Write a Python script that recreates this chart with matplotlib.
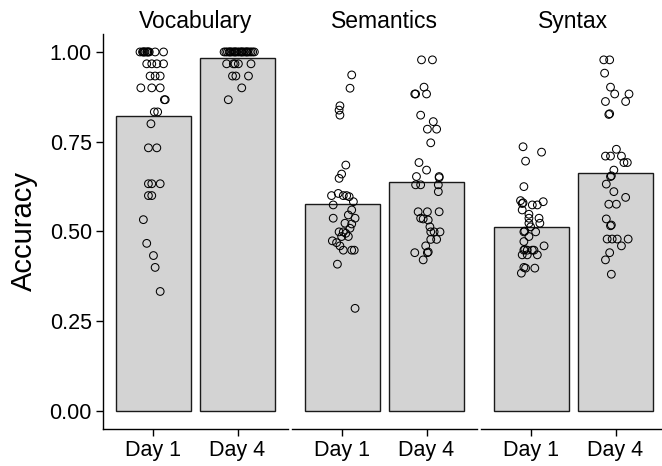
import matplotlib.pyplot as plt

plt.rcParams['font.family'] = ['Liberation Sans', 'DejaVu Sans']

panels = ["Vocabulary", "Semantics", "Syntax"]
days = ["Day 1", "Day 4"]
y_ticks = [0.00, 0.25, 0.50, 0.75, 1.00]

# mean accuracy per panel (Day 1, Day 4)
means = {
    "Vocabulary": [0.822, 0.984],
    "Semantics": [0.577, 0.637],
    "Syntax": [0.513, 0.662],
}

# individual scores: (jitter offset, accuracy)
vocab_d1 = [(-0.16, 1.0), (-0.13, 1.0), (-0.12, 1.0), (-0.11, 1.0), (-0.10, 1.0), (-0.08, 1.0),
            (-0.07, 1.0), (-0.06, 1.0), (-0.05, 1.0), (0.02, 1.0), (0.12, 1.0),
            (-0.08, 0.967), (-0.02, 0.967), (0.04, 0.967), (0.12, 0.967),
            (-0.04, 0.933), (0.02, 0.933), (0.08, 0.933),
            (-0.15, 0.9), (-0.02, 0.9), (0.08, 0.9),
            (0.13, 0.867), (0.14, 0.867),
            (0.01, 0.833), (0.05, 0.833),
            (-0.03, 0.8),
            (-0.06, 0.733), (0.04, 0.733),
            (-0.06, 0.633), (-0.02, 0.633), (0.08, 0.633),
            (-0.06, 0.6), (-0.02, 0.6),
            (-0.12, 0.533), (-0.08, 0.467), (0.0, 0.433), (0.02, 0.4), (0.08, 0.333)]
vocab_d4 = [(-0.16, 1.0), (-0.14, 1.0), (-0.12, 1.0), (-0.10, 1.0), (-0.09, 1.0), (-0.08, 1.0),
            (-0.06, 1.0), (-0.04, 1.0), (-0.03, 1.0), (-0.02, 1.0), (0.0, 1.0), (0.02, 1.0),
            (0.04, 1.0), (0.05, 1.0), (0.06, 1.0), (0.08, 1.0), (0.10, 1.0), (0.11, 1.0),
            (0.12, 1.0), (0.14, 1.0), (0.16, 1.0), (0.18, 1.0), (0.20, 1.0),
            (-0.13, 0.967), (-0.05, 0.967), (-0.03, 0.967), (0.01, 0.967), (0.16, 0.967),
            (-0.06, 0.933), (-0.02, 0.933), (0.13, 0.933),
            (0.05, 0.9), (-0.11, 0.867)]
sem_d1 = [(0.11, 0.936), (0.09, 0.899), (-0.03, 0.850), (-0.04, 0.838), (-0.03, 0.824),
          (0.04, 0.685), (-0.01, 0.660), (-0.04, 0.648), (-0.05, 0.606), (-0.13, 0.600),
          (0.01, 0.600), (0.05, 0.600), (0.08, 0.597), (0.13, 0.583), (-0.11, 0.574),
          (0.11, 0.560), (0.07, 0.546), (-0.11, 0.537), (0.15, 0.537), (0.03, 0.523),
          (0.11, 0.521), (0.09, 0.509), (-0.04, 0.499), (0.01, 0.499), (0.04, 0.495),
          (0.07, 0.486), (-0.01, 0.486), (-0.12, 0.474), (-0.07, 0.469), (-0.03, 0.460),
          (0.01, 0.448), (0.11, 0.448), (0.14, 0.448), (-0.06, 0.409), (0.15, 0.286)]
sem_d4 = [(-0.06, 0.978), (0.07, 0.978), (-0.03, 0.902), (-0.14, 0.883), (-0.13, 0.883),
          (0.0, 0.883), (-0.07, 0.824), (0.08, 0.806), (0.01, 0.785), (0.12, 0.785),
          (0.05, 0.747), (-0.09, 0.692), (0.0, 0.671), (-0.12, 0.653), (0.15, 0.653),
          (0.15, 0.650), (-0.13, 0.630), (-0.07, 0.630), (0.14, 0.630), (0.14, 0.611),
          (-0.10, 0.555), (0.01, 0.555), (0.15, 0.555), (-0.07, 0.537), (-0.04, 0.535),
          (0.02, 0.532), (0.04, 0.513), (0.05, 0.499), (0.09, 0.499), (0.16, 0.499),
          (0.05, 0.478), (0.12, 0.478), (-0.01, 0.460), (-0.14, 0.441), (0.01, 0.441),
          (0.02, 0.443), (-0.04, 0.421)]
syn_d1 = [(-0.10, 0.736), (0.12, 0.721), (-0.07, 0.696), (-0.09, 0.625), (-0.13, 0.586),
          (-0.11, 0.578), (-0.10, 0.580), (0.01, 0.574), (0.07, 0.574), (0.14, 0.583),
          (-0.11, 0.560), (-0.03, 0.548), (-0.03, 0.537), (0.09, 0.537), (-0.03, 0.523),
          (0.10, 0.523), (-0.01, 0.513), (-0.09, 0.499), (-0.08, 0.501), (0.05, 0.499),
          (-0.03, 0.486), (-0.09, 0.472), (0.15, 0.460), (-0.09, 0.448), (-0.08, 0.450),
          (-0.05, 0.448), (0.01, 0.448), (0.03, 0.448), (-0.11, 0.435), (-0.05, 0.435),
          (0.07, 0.435), (-0.09, 0.400), (0.04, 0.398), (-0.07, 0.398), (-0.12, 0.384)]
syn_d4 = [(-0.14, 0.978), (-0.07, 0.978), (-0.13, 0.941), (-0.06, 0.902), (-0.01, 0.883),
          (0.16, 0.883), (-0.12, 0.862), (0.12, 0.862), (-0.08, 0.826), (-0.07, 0.828),
          (0.01, 0.729), (-0.12, 0.710), (-0.06, 0.710), (0.07, 0.710), (0.10, 0.692),
          (0.14, 0.692), (-0.02, 0.671), (-0.06, 0.653), (-0.05, 0.655), (-0.11, 0.632),
          (-0.02, 0.611), (0.12, 0.595), (-0.08, 0.576), (0.01, 0.576), (-0.11, 0.535),
          (-0.06, 0.516), (-0.05, 0.518), (-0.10, 0.479), (-0.04, 0.479), (0.02, 0.479),
          (0.15, 0.479), (0.07, 0.460), (-0.07, 0.441), (-0.12, 0.421), (-0.05, 0.381)]

scores = {
    "Vocabulary": [vocab_d1, vocab_d4],
    "Semantics": [sem_d1, sem_d4],
    "Syntax": [syn_d1, syn_d4],
}

fig = plt.figure(figsize=(6.62, 4.66), dpi=100)
W, H = 662, 466
lefts = [103, 292, 481]
pw = 185
top, bottom = 34, 429

for i, name in enumerate(panels):
    ax = fig.add_axes([lefts[i] / W, 1 - bottom / H, pw / W, (bottom - top) / H])
    xs = [1, 2]
    ax.bar(xs, means[name], width=0.9, color="#d3d3d3", edgecolor="#1a1a1a",
           linewidth=1.0, zorder=1)
    for j, pts in enumerate(scores[name]):
        px = [xs[j] + p[0] for p in pts]
        py = [p[1] for p in pts]
        ax.scatter(px, py, s=31, facecolors="none", edgecolors="black",
                   linewidths=0.75, zorder=3)
    ax.set_xlim(0.4, 2.6)
    ax.set_ylim(-0.05, 1.05)
    ax.set_xticks(xs)
    ax.set_xticklabels(days, fontsize=15.5)
    for s in ["top", "right"]:
        ax.spines[s].set_visible(False)
    ax.spines["bottom"].set_linewidth(1.0)
    ax.tick_params(axis="x", length=5, width=1.0, pad=3)
    if i == 0:
        ax.set_yticks(y_ticks)
        ax.set_yticklabels([f"{v:.2f}" for v in y_ticks], fontsize=15.5)
        ax.tick_params(axis="y", length=5, width=1.0, pad=3)
        ax.spines["left"].set_linewidth(1.0)
        ax.set_ylabel("Accuracy", fontsize=21, labelpad=8)
    else:
        ax.spines["left"].set_visible(False)
        ax.set_yticks([])
    ax.set_title(name, fontsize=16.5, pad=4)

fig.savefig("out.png", dpi=100)
